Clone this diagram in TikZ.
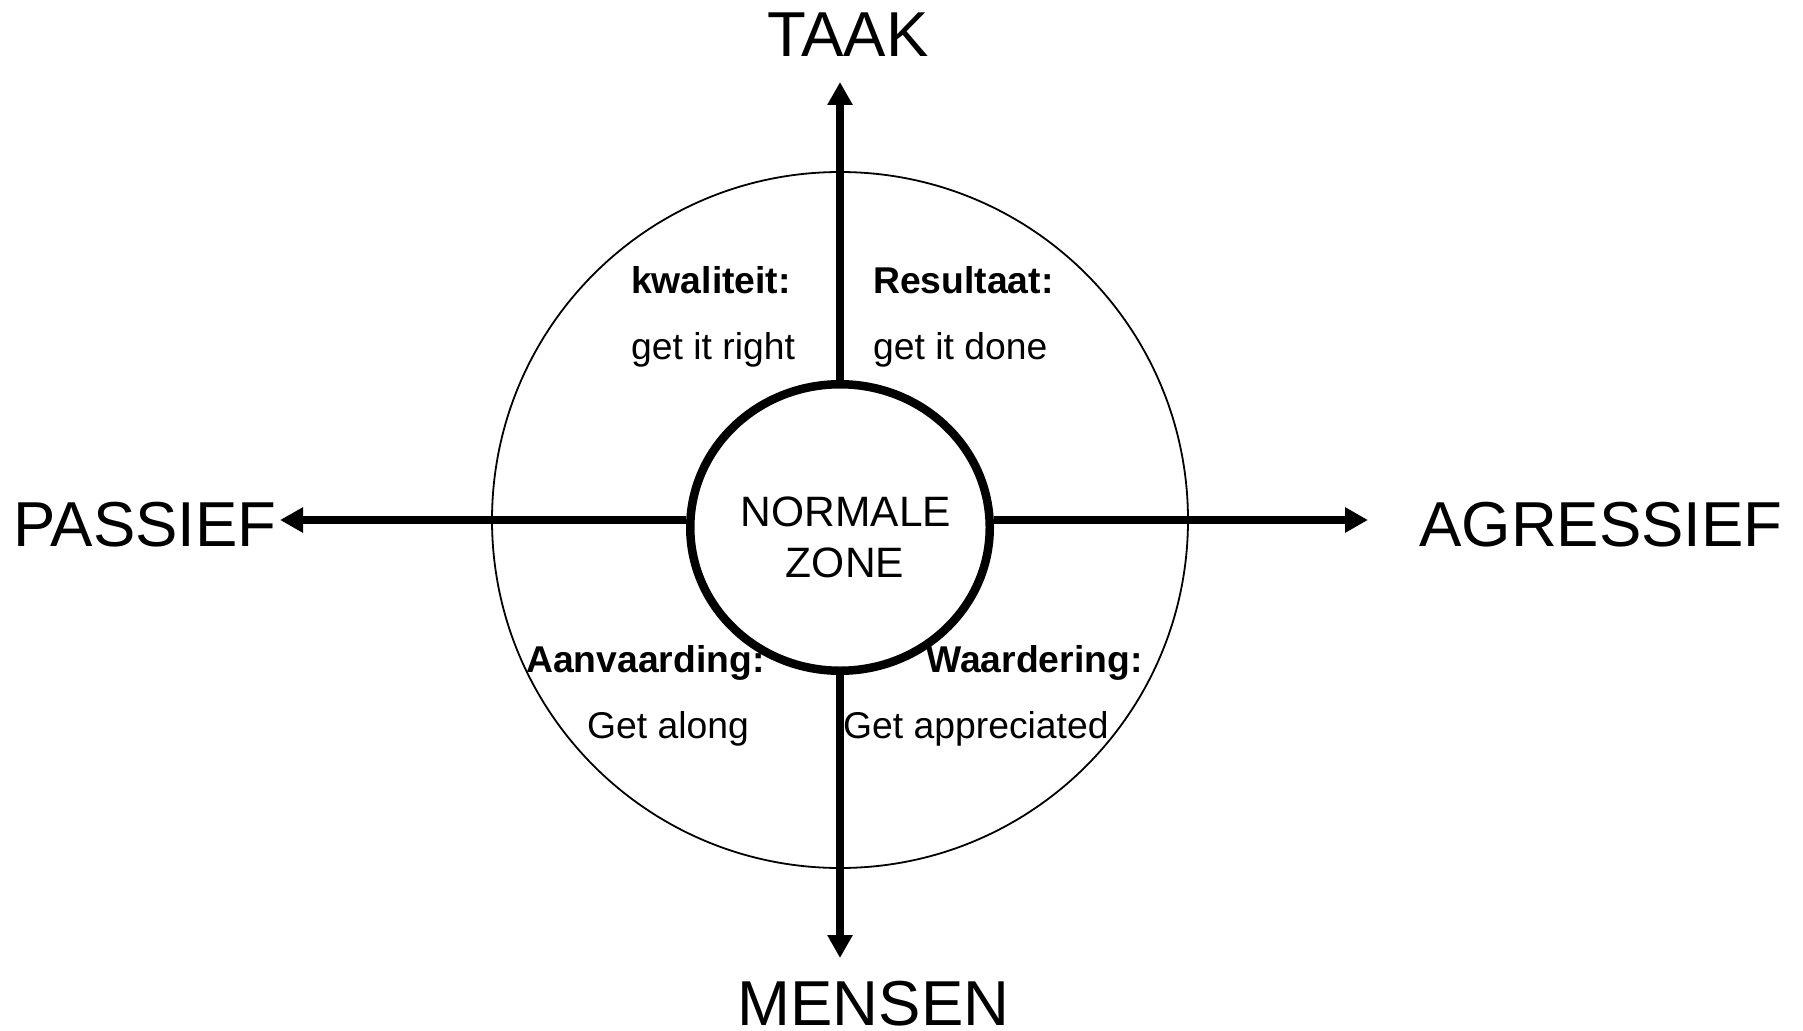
\documentclass[tikz,border=0pt]{standalone}
\usepackage{fontspec}
\setmainfont{Liberation Sans}
\usetikzlibrary{arrows.meta,shapes.geometric}
\begin{document}
\begin{tikzpicture}[x=1pt,y=-1pt,
  axisline/.style={line width=8.5pt, -{Triangle[length=23pt,width=24pt]}},
  ring/.style={draw, line width=1.8pt, circle, inner sep=0pt, minimum size=696pt},
  zonering/.style={draw, line width=8.5pt, ellipse, inner sep=0pt,
                   minimum width=299.5pt, minimum height=286.5pt},
  pole/.style={font=\fontsize{63.5}{70}\selectfont, inner sep=0pt, anchor=base, text depth=0pt},
  zonetext/.style={font=\fontsize{42.5}{48}\selectfont, inner sep=0pt, anchor=base},
  quad/.style={font=\fontsize{37.3}{42}\selectfont, inner sep=0pt, anchor=base west},
  quadhead/.style={font=\fontsize{37.3}{42}\selectfont\bfseries, inner sep=0pt, anchor=base west}
]
\useasboundingbox (0,0) rectangle (1803,1030);

% outer circle and the normal zone
\node[ring] (outer) at (840,520) {};
\node[zonering] (zone) at (840,527.5) {};

% ends of the four axes
\coordinate (tipN) at (840,82);
\coordinate (tipS) at (840,958);
\coordinate (tipW) at (280,520);
\coordinate (tipE) at (1368,520);

% axes
\draw[axisline] (zone.north) -- (tipN);
\draw[axisline] (zone.south) -- (tipS);
\draw[axisline] (zone.west |- tipW) -- (tipW);
\draw[axisline] (zone.east |- tipE) -- (tipE);

% axis labels
\node[pole] (taak) at (848,57) {TAAK};
\node[pole] (mensen) at (873.5,1025) {MENSEN};
\node[pole] (passief) at (145,546) {PASSIEF};
\node[pole] (agressief) at (1601,546) {AGRESSIEF};

% centre text
\node[zonetext] (normale) at (846,526) {NORMALE};
\node[zonetext] (zonelbl) at (845,577) {ZONE};

% quadrant texts
\node[quadhead] (kwal) at (631,293) {kwaliteit:};
\node[quad] (kwalsub) at (631,359) {get it right};
\node[quadhead] (res) at (873,293) {Resultaat:};
\node[quad] (ressub) at (873,359) {get it done};
\node[quadhead] (aanv) at (526,672) {Aanvaarding:};
\node[quad] (aanvsub) at (587,738) {Get along};
\node[quadhead] (waard) at (926,672) {Waardering:};
\node[quad] (waardsub) at (843,738) {Get appreciated};
\end{tikzpicture}
\end{document}
